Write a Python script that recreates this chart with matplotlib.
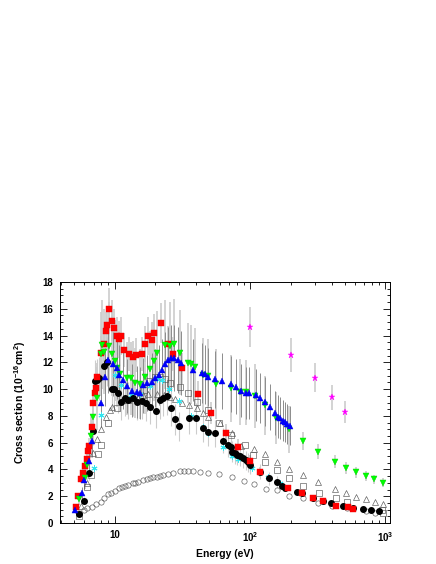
import matplotlib
matplotlib.use("Agg")
import matplotlib.pyplot as plt
from matplotlib.ticker import FixedLocator, MultipleLocator, LogLocator, NullFormatter, FixedFormatter
import numpy as np

plt.rcParams['font.family'] = ['Liberation Sans', 'DejaVu Sans']
plt.rcParams['mathtext.fontset'] = 'custom'
plt.rcParams['mathtext.rm'] = 'Liberation Sans:bold'
plt.rcParams['mathtext.bf'] = 'Liberation Sans:bold'
plt.rcParams['mathtext.default'] = 'bf'

# ---- data (energy in eV, cross section in 1e-16 cm^2) ----
red_E = [5.2, 5.4, 5.63, 5.83, 6.05, 6.3, 6.4, 6.45, 6.77, 6.96, 7.22, 7.35, 7.47, 7.95, 8.4, 8.65, 8.85,
         9.15, 9.6, 9.9, 10.4, 10.85, 11.1, 11.75, 12.85, 13.8, 14.4, 15.9, 16.8, 17.8, 18.8, 19.7, 21.9,
         24.9, 26.9, 31.7, 41.6, 51.2, 66.3, 81.2, 100.3, 119, 192, 240, 293, 344, 433, 532, 580]
red_y = [1.17, 2.04, 3.29, 3.76, 4.26, 4.76, 5.38, 5.77, 7.19, 8.94, 9.73, 10.06, 10.88, 12.67, 13.37, 14.34,
         14.76, 15.96, 15.11, 14.54, 13.97, 13.72, 13.97, 12.92, 12.62, 12.37, 12.55, 12.62, 13.37, 13.97,
         13.67, 14.17, 14.96, 13.37, 12.62, 11.55, 9.61, 8.19, 6.7, 5.7, 4.65, 3.83, 2.59, 2.26, 1.84, 1.67,
         1.27, 1.17, 1.02]
red_relerr = 0.10

green_E = [5.5, 6.05, 6.3, 6.7, 6.96, 7.39, 7.97, 8.05, 8.4, 9.1, 9.6, 10.0, 10.5, 11.0, 12.3, 13.2, 14.2,
           15.4, 16.8, 18.2, 19.5, 20.7, 23.6, 25.7, 27.6, 30.4, 35, 37, 39, 45, 49, 56, 72, 85, 94, 109,
           129, 155, 195]
green_y = [1.77, 3.34, 4.33, 6.5, 7.94, 9.31, 12.6, 13.3, 12.8, 13.2, 12.6, 12.1, 11.6, 11.1, 10.8, 10.8,
           10.45, 10.4, 10.9, 11.5, 12.1, 12.67, 13.3, 13.2, 13.4, 12.7, 11.97, 11.85, 11.67, 11.05, 10.98,
           10.4, 10.06, 9.8, 9.75, 9.48, 8.81, 7.85, 7.0]
green_relerr = 0.25
greenhi_E = [245, 319, 424, 508, 603, 714, 822, 963]
greenhi_y = [6.15, 5.33, 4.58, 4.08, 3.78, 3.51, 3.26, 3.01]
greenhi_relerr = 0.11

blue_E = [5.1, 5.72, 5.96, 6.5, 6.77, 7.9, 8.45, 8.9, 9.8, 10.4, 10.85, 11.5, 12.3, 13.4, 14.6, 15.4, 16.3,
          17.5, 18.8, 19.9, 21.3, 22.3, 23.6, 24.9, 26.1, 27.6, 29.3, 30.9, 37.8, 43.9, 46.5, 49.3, 55.2,
          61.8, 72, 78.9, 86, 94, 98, 111, 119.5, 129.5, 141.5, 154, 160, 166, 174, 181, 189, 197]
blue_y = [0.97, 2.26, 3.21, 4.65, 6.15, 9.0, 10.9, 12.17, 11.9, 11.6, 11.05, 10.68, 10.23, 9.88, 9.8, 9.68,
          10.3, 10.43, 10.55, 10.8, 11.05, 11.43, 11.9, 12.17, 12.3, 12.3, 12.17, 11.93, 11.43, 11.18, 11.1,
          10.88, 10.73, 10.6, 10.38, 10.18, 9.88, 9.73, 9.73, 9.56, 9.36, 9.06, 8.64, 8.24, 7.94, 7.82, 7.64,
          7.52, 7.39, 7.27]
blue_relerr = 0.20

black_E = [5.5, 6.0, 6.48, 6.9, 7.18, 7.45, 7.72, 8.41, 8.8, 9.53, 9.91, 10.67, 11.17, 11.95, 12.64, 13.63,
           14.6, 15.9, 17.1, 18.3, 20.1, 21.5, 22.7, 24.3, 26.0, 27.9, 30.1, 35.5, 39.9, 44.7, 49.4, 55.2,
           63.6, 69.2, 72, 74.1, 77.5, 80.6, 84.4, 88.3, 92.8, 97.1, 99.6, 118.5, 138.3, 157.4, 173.2, 181.3,
           222, 244, 293, 344, 394, 489, 580, 681, 781, 889]
black_y = [0.65, 1.67, 3.76, 6.87, 10.6, 10.68, 10.8, 11.7, 12.05, 10.0, 10.0, 9.68, 9.01, 9.36, 9.18, 9.36,
           9.06, 9.11, 8.94, 8.7, 8.39, 9.18, 9.36, 9.48, 8.56, 7.74, 7.24, 7.82, 7.82, 7.1, 6.78, 6.7, 6.15,
           5.83, 5.7, 5.33, 5.2, 5.1, 4.97, 4.83, 4.68, 4.52, 4.33, 3.83, 3.34, 3.04, 2.76, 2.59, 2.34, 2.22,
           1.84, 1.67, 1.47, 1.29, 1.1, 1.02, 0.97, 0.92]
black_relerr = 0.15

osq_E = [5.5, 6.3, 6.7, 7.5, 7.95, 9.0, 10.5, 12.5, 14.5, 16.5, 18.0, 20.0, 21.8, 23.6, 25.7, 30.4, 35.0,
         40.5, 49.3, 59, 72.5, 92, 105, 129, 157, 195, 245, 322, 430, 520, 950, 960]
osq_y = [0.52, 2.67, 3.58, 5.13, 5.83, 7.45, 8.6, 9.2, 9.5, 9.9, 10.6, 10.93, 10.9, 10.73, 10.48, 10.15, 9.73,
         9.06, 8.44, 7.5, 6.57, 5.83, 5.08, 4.53, 3.96, 3.34, 2.76, 2.26, 1.84, 1.59, 0.97, 0.72]

otri_E = [5.7, 6.3, 6.9, 7.47, 7.9, 8.6, 9.27, 9.6, 11.4, 13.2, 14.9, 16.3, 17.8, 20.5, 23.0, 25.5, 28, 31.5,
          35.7, 40.5, 44.8, 49.3, 60, 74, 86, 107, 129, 157, 195, 245, 319, 424, 508, 603, 714, 835, 960]
otri_y = [1.3, 3.0, 5.2, 6.25, 7.0, 7.9, 8.44, 8.64, 9.18, 9.31, 9.31, 9.56, 9.6, 9.63, 9.53, 9.43, 9.24, 8.99,
          8.81, 8.56, 8.19, 7.89, 7.45, 6.7, 5.75, 5.5, 5.15, 4.58, 4.03, 3.58, 3.08, 2.52, 2.26, 1.92, 1.77,
          1.59, 1.42]

ocirc_E = [5.5, 5.96, 6.3, 6.77, 7.3, 7.9, 8.35, 9.0, 9.42, 10.1, 10.85, 11.3, 11.95, 12.6, 13.6, 14.2, 14.9,
           16.2, 17.3, 18.3, 19.1, 20.5, 21.6, 22.9, 24.9, 27.2, 30.4, 32.5, 35.0, 38.2, 42.7, 49.3, 58.8,
           73.3, 89.6, 107, 131, 157, 195, 245, 319, 402, 519, 723, 835]
ocirc_y = [0.75, 1.0, 1.1, 1.22, 1.45, 1.6, 1.84, 2.14, 2.22, 2.4, 2.59, 2.66, 2.75, 2.84, 2.96, 3.02, 3.08,
           3.21, 3.29, 3.35, 3.41, 3.46, 3.52, 3.58, 3.66, 3.76, 3.88, 3.9, 3.91, 3.88, 3.81, 3.76, 3.66,
           3.41, 3.15, 2.9, 2.55, 2.43, 2.05, 1.84, 1.5, 1.3, 1.1, 0.88, 0.72]

cyan_E = [7.1, 7.9, 10.1, 11.1, 13.2, 15.4, 18.3, 20.5, 22.3, 25.4, 30.1, 37, 44.7, 49.3, 63.6, 73.3, 82,
          104, 136, 166]
cyan_y = [4.08, 8.05, 11.05, 10.3, 9.56, 9.6, 10.2, 10.73, 10.68, 10.0, 9.13, 8.0, 7.19, 6.74, 5.7, 5.0, 4.8,
          4.08, 3.46, 2.96]

mag_E = [100, 200, 300, 400, 500]
mag_y = [14.65, 12.55, 10.85, 9.4, 8.3]
mag_err = [1.5, 1.24, 1.08, 0.93, 0.8]

x_ticks = [10, 100, 1000]
x_ticklabels = ['10', r'$10^{2}$', r'$10^{3}$']

LIGHT = '#cccccc'
DARK = '#8c8c8c'

fig = plt.figure(figsize=(4.36, 5.64), dpi=100)
ax = fig.add_axes([60 / 436, 41 / 564, 330 / 436, 241 / 564])
ax.set_xscale('log')

def ebar(E, y, rel, color, lw=1.0, z=1):
    y = np.asarray(y)
    ax.errorbar(E, y, yerr=rel * y, fmt='none', ecolor=color, elinewidth=lw, capsize=0, zorder=z)

# error bars (drawn first)
ebar(green_E, green_y, green_relerr, LIGHT, 1.2, 1)
ebar(greenhi_E, greenhi_y, greenhi_relerr, LIGHT, 1.2, 1)
ebar(red_E[:42], red_y[:42], red_relerr, LIGHT, 1.2, 1)
ebar(blue_E, blue_y, blue_relerr, DARK, 0.7, 1.5)
ebar(black_E[:46], black_y[:46], black_relerr, LIGHT, 0.8, 1.2)
ax.errorbar(mag_E, mag_y, yerr=mag_err, fmt='none', ecolor=LIGHT, elinewidth=1.2, capsize=0, zorder=1)

# markers
ax.plot(ocirc_E, ocirc_y, ls='none', marker='o', ms=3.8, mfc='none', mec='#555555', mew=0.45, zorder=3)
ax.plot(osq_E, osq_y, ls='none', marker='s', ms=3.8, mfc='none', mec='#555555', mew=0.45, zorder=3)
ax.plot(otri_E, otri_y, ls='none', marker='^', ms=4.3, mfc='none', mec='#555555', mew=0.45, zorder=3)
ax.plot(cyan_E, cyan_y, ls='none', marker=(6, 2, 0), ms=4.3, mec='#33e6f0', mew=0.7, zorder=3)
ax.plot(black_E, black_y, ls='none', marker='o', ms=4.0, mfc='black', mec='black', zorder=4)
ax.plot(green_E, green_y, ls='none', marker='v', ms=4.0, mfc='#00ff00', mec='#00cc00', mew=0.3, zorder=5)
ax.plot(greenhi_E, greenhi_y, ls='none', marker='v', ms=4.0, mfc='#00ff00', mec='#00cc00', mew=0.3, zorder=5)
ax.plot(red_E, red_y, ls='none', marker='s', ms=4.2, mfc='#ff0000', mec='#ee0000', mew=0.3, zorder=4.5)
ax.plot(blue_E, blue_y, ls='none', marker='^', ms=3.7, mfc='#0000ff', mec='#0000dd', mew=0.3, zorder=6)
ax.plot(mag_E, mag_y, ls='none', marker='*', ms=4.5, mfc='#ff00ff', mec='#ff00ff', mew=0.3, zorder=6)

ax.set_xlim(3.96, 1080)
ax.set_ylim(0, 18)

ax.xaxis.set_major_locator(FixedLocator(x_ticks))
ax.xaxis.set_major_formatter(FixedFormatter(x_ticklabels))
ax.xaxis.set_minor_locator(LogLocator(base=10, subs=np.arange(2, 10)))
ax.xaxis.set_minor_formatter(NullFormatter())
ax.yaxis.set_major_locator(MultipleLocator(2))
ax.yaxis.set_minor_locator(MultipleLocator(0.5))

ax.tick_params(which='both', direction='in', top=True, right=True, width=0.6)
ax.tick_params(which='major', length=5, labelsize=7)
ax.tick_params(which='minor', length=2.5)
ax.tick_params(axis='y', pad=5)
ax.tick_params(axis='x', pad=5)
for lab in ax.get_xticklabels() + ax.get_yticklabels():
    lab.set_fontweight('bold')
for s in ax.spines.values():
    s.set_linewidth(0.7)

ax.set_xlabel('Energy (eV)', fontsize=7.5, fontweight='bold', labelpad=4)
ax.set_ylabel(r'Cross section (10$^{-16}$cm$^{2}$)', fontsize=7.5, fontweight='bold', labelpad=10)

fig.savefig('out.png', dpi=100)
